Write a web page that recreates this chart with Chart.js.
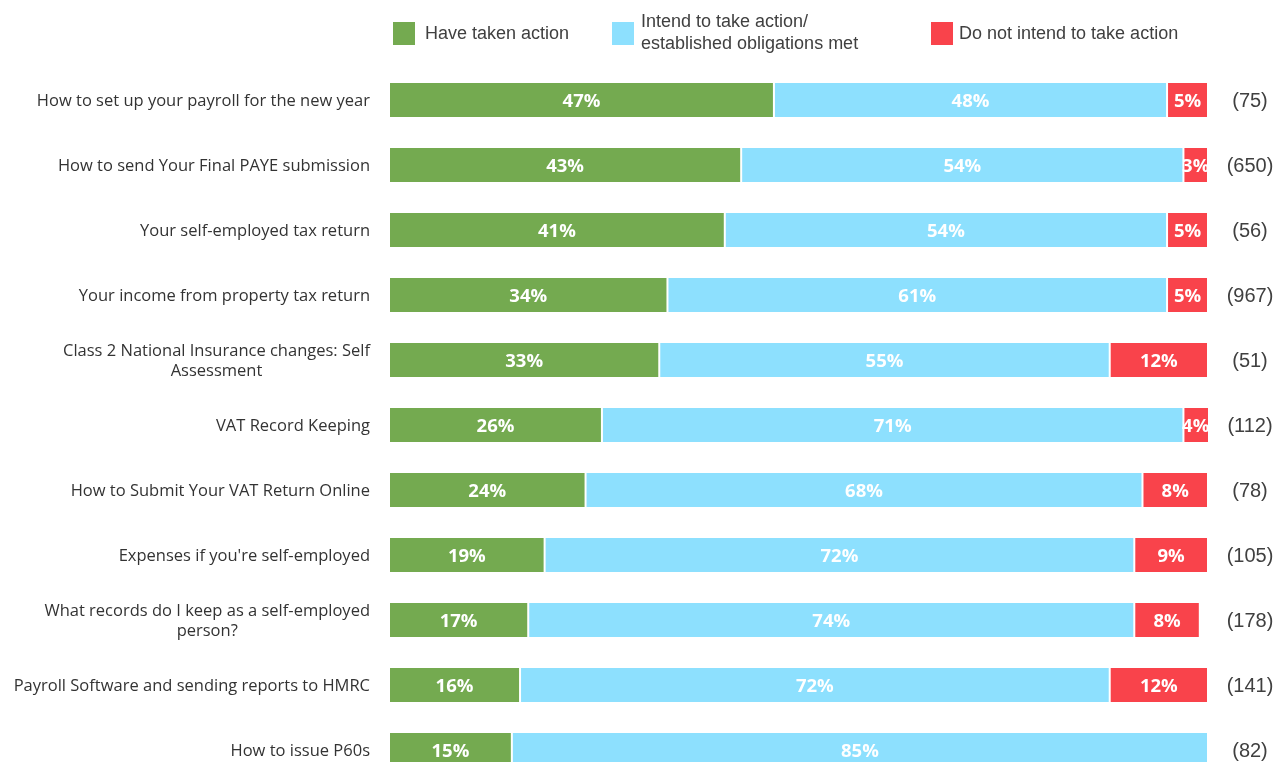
<!DOCTYPE html>
<html>
<head>
<meta charset="utf-8">
<script src="https://cdn.jsdelivr.net/npm/chart.js@4/dist/chart.umd.min.js"></script>
<style>
  html, body { margin: 0; padding: 0; background: #fff; overflow: hidden; }
  #wrap { position: relative; width: 1278px; height: 762px; overflow: hidden; }
  #chart { position: absolute; left: 0; top: 0; }
  .legend { position: absolute; top: 0; font-family: "Liberation Sans", Arial, sans-serif; font-size: 18px; color: #404040; }
  .sw { position: absolute; width: 22px; height: 23px; }
  .lt { position: absolute; white-space: nowrap; line-height: 22px; }
</style>
</head>
<body>
<div id="wrap">
  <canvas id="chart" width="1278" height="790"></canvas>
  <div class="legend" style="left:0;width:1278px;height:60px;">
    <div class="sw" style="left:393px;top:22px;background:#74AA50"></div>
    <div class="lt" style="left:425px;top:22px;">Have taken action</div>
    <div class="sw" style="left:612px;top:22px;background:#8DE0FE"></div>
    <div class="lt" style="left:641px;top:10px;">Intend to take action/<br>established obligations met</div>
    <div class="sw" style="left:931px;top:22px;background:#F9434B"></div>
    <div class="lt" style="left:959px;top:22px;">Do not intend to take action</div>
  </div>
</div>
<script>
// Survey topics (multi-line entries wrap as shown)
const categories = [
  ["How to set up your payroll for the new year"],
  ["How to send Your Final PAYE submission"],
  ["Your self-employed tax return"],
  ["Your income from property tax return"],
  ["Class 2 National Insurance changes: Self", "Assessment"],
  ["VAT Record Keeping"],
  ["How to Submit Your VAT Return Online"],
  ["Expenses if you're self-employed"],
  ["What records do I keep as a self-employed", "person?"],
  ["Payroll Software and sending reports to HMRC"],
  ["How to issue P60s"]
];

// Share of respondents (%) per response
const haveTaken = [47, 43, 41, 34, 33, 26, 24, 19, 17, 16, 15];
const intendTo = [48, 54, 54, 61, 55, 71, 68, 72, 74, 72, 85];
const notIntend = [5, 3, 5, 5, 12, 4, 8, 9, 8, 12, 0];

// Number of respondents per topic
const respondents = [75, 650, 56, 967, 51, 112, 78, 105, 178, 141, 82];

const seriesNames = ["Have taken action", "Intend to take action/ established obligations met", "Do not intend to take action"];
const colors = ["#74AA50", "#8DE0FE", "#F9434B"];

// White percentage text centred inside each segment
const segmentLabels = {
  id: "segmentLabels",
  afterDatasetsDraw(chart) {
    const ctx = chart.ctx;
    ctx.save();
    ctx.font = "bold 18.5px 'Open Sans', sans-serif";
    ctx.fillStyle = "#ffffff";
    ctx.textAlign = "center";
    ctx.textBaseline = "middle";
    chart.data.datasets.forEach((ds, di) => {
      const meta = chart.getDatasetMeta(di);
      meta.data.forEach((el, i) => {
        const v = ds.data[i];
        if (!v) return;
        const p = el.getProps(["x", "y", "base"], true);
        const right = Math.min(p.x, chart.chartArea.right);
        ctx.fillText(v + "%", (right + p.base) / 2, p.y + 2);
      });
    });
    ctx.restore();
  }
};

// Topic names (right-aligned block, lines centred) and respondent counts
const sideText = {
  id: "sideText",
  afterDraw(chart) {
    const ctx = chart.ctx;
    const y = chart.scales.y;
    ctx.save();
    ctx.textBaseline = "middle";
    ctx.fillStyle = "#333333";
    ctx.font = "16.5px 'Open Sans', sans-serif";
    const rightEdge = chart.chartArea.left - 19;
    const lh = 20;
    categories.forEach((lines, i) => {
      const cy = y.getPixelForValue(i) + 1;
      const widths = lines.map(l => ctx.measureText(l).width);
      const maxW = Math.max(...widths);
      const cx = rightEdge - maxW / 2;
      ctx.textAlign = "center";
      lines.forEach((l, k) => {
        const ly = cy + (k - (lines.length - 1) / 2) * lh;
        ctx.fillText(l, cx, ly);
      });
    });
    ctx.fillStyle = "#404040";
    ctx.font = "20px 'Liberation Sans', Arial, sans-serif";
    ctx.textAlign = "center";
    respondents.forEach((n, i) => {
      ctx.fillText("(" + n + ")", chart.chartArea.right + 42, y.getPixelForValue(i) + 1);
    });
    ctx.restore();
  }
};

const datasets = [haveTaken, intendTo, notIntend].map((vals, k) => ({
  label: seriesNames[k],
  data: vals,
  backgroundColor: colors[k],
  borderColor: "#ffffff",
  borderWidth: { left: 1, right: 1, top: 0, bottom: 0 },
  borderSkipped: false,
  barPercentage: 0.523,
  categoryPercentage: 1.0
}));

new Chart(document.getElementById("chart"), {
  type: "bar",
  data: { labels: categories.map(l => l.join(" ")), datasets },
  options: {
    indexAxis: "y",
    responsive: false,
    animation: false,
    layout: { padding: { left: 389, right: 70, top: 67.5, bottom: 7.5 } },
    plugins: { legend: { display: false }, tooltip: { enabled: false } },
    scales: {
      x: { stacked: true, min: 0, max: 100, display: false },
      y: { stacked: true, display: false }
    }
  },
  plugins: [segmentLabels, sideText]
});
</script>
</body>
</html>
